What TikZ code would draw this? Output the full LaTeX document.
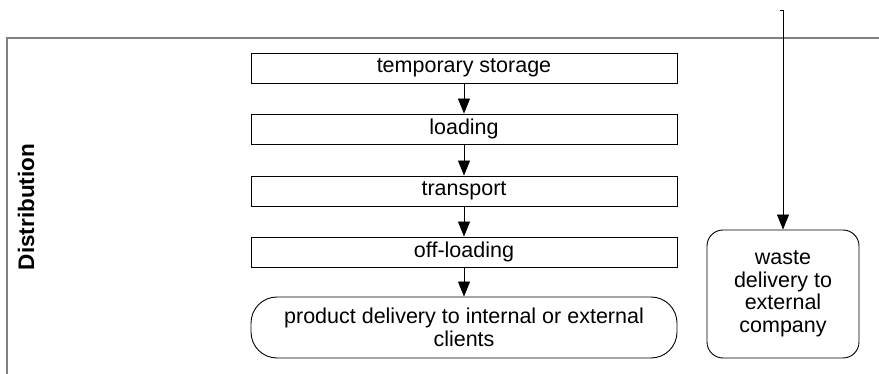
\documentclass[tikz,border=0pt]{standalone}
\usepackage{fontspec}
\setmainfont{Liberation Sans}
\usetikzlibrary{arrows.meta}
\begin{document}
\begin{tikzpicture}[x=1pt,y=-1pt,
  font=\fontsize{21.5}{22.5}\selectfont,
  stepbox/.style={draw=black,line width=0.9pt,minimum width=426pt,minimum height=30pt,inner sep=0pt,anchor=center},
  endbox/.style={draw=black,line width=0.9pt,rounded corners=#1,inner sep=0pt,align=center,anchor=center},
  flow/.style={draw=black,line width=0.9pt,-{Triangle[length=15pt,width=12pt]}},
  frame/.style={draw=black!50,line width=1.6pt}]
  \useasboundingbox (0,0) rectangle (879,374);
  % swimlane frame (open at right and bottom)
  \coordinate (laneBL) at (7,374);
  \coordinate (laneTL) at (7,38);
  \coordinate (laneTR) at (879,38);
  \draw[frame] (laneBL) -- (laneTL) -- (laneTR);
  \node[rotate=90,font=\fontsize{22.5}{24}\selectfont\bfseries] (lane) at (26,207) {Distribution};
  % process steps
  \node[stepbox] (storage) at (464,68) {temporary storage};
  \node[stepbox] (loading) at (464,129) {loading};
  \node[stepbox] (transport) at (464,191) {transport};
  \node[stepbox] (offload) at (464,252) {off-loading};
  \node[endbox=26pt,minimum width=426pt,minimum height=61pt] (product) at (464,327.5)
    {product delivery to internal or external\\clients};
  \node[endbox=16pt,minimum width=152pt,minimum height=128pt] (waste) at (783,294)
    {waste\\delivery to\\external\\company};
  % connectors
  \draw[flow] (storage) -- (loading);
  \draw[flow] (loading) -- (transport);
  \draw[flow] (transport) -- (offload);
  \draw[flow] (offload) -- (product);
  \coordinate (wasteTick) at (780,10);
  \coordinate (wasteIn) at (783,10);
  \draw[line width=0.9pt] (wasteTick) -- (wasteIn);
  \draw[flow] (wasteIn) -- (waste.north);
\end{tikzpicture}
\end{document}
